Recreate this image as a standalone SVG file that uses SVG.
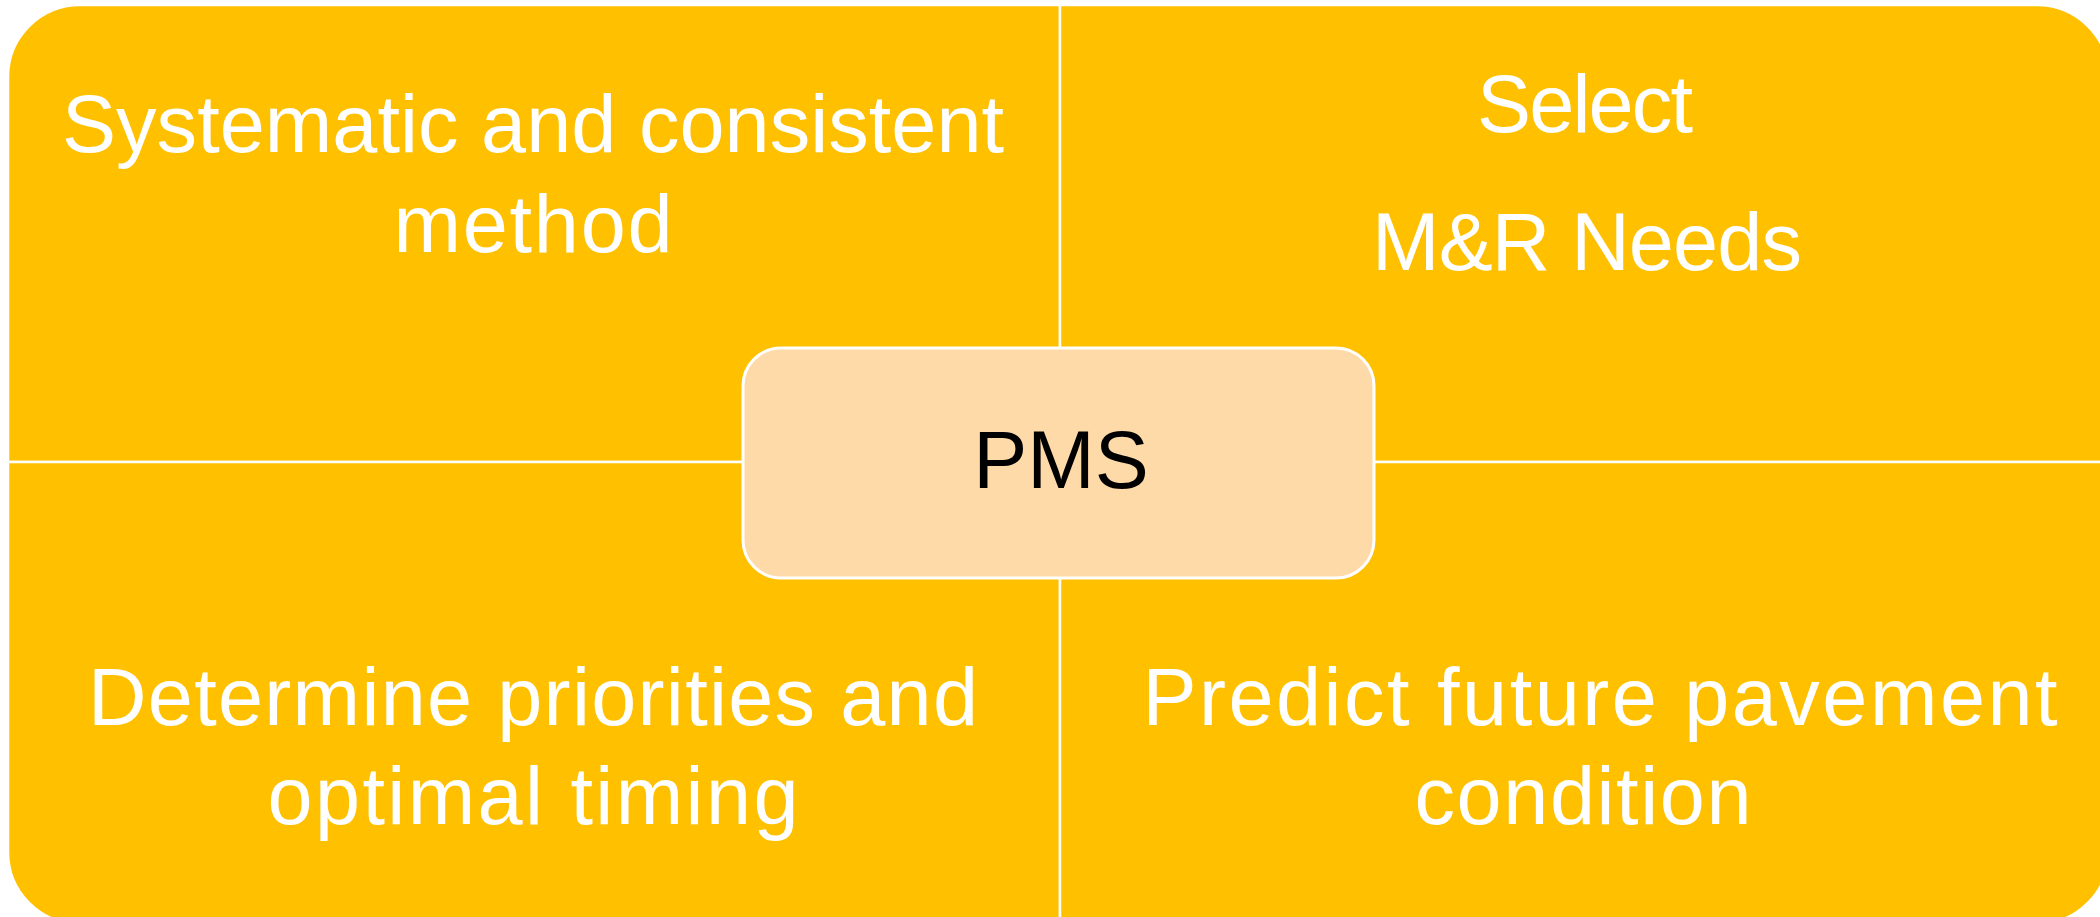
<svg xmlns="http://www.w3.org/2000/svg" width="2100" height="917" viewBox="0 0 2100 917">
  <style>
    .quad { fill: #FFC000; stroke: #FFFFFF; stroke-width: 2.5; }
    .center { fill: #FEDAA8; stroke: #FFFFFF; stroke-width: 3; }
    .qt { font-family: "Liberation Sans", Arial, sans-serif; font-size: 81px; fill: #FFFFFF; text-anchor: middle; }
    .ct { font-family: "Liberation Sans", Arial, sans-serif; font-size: 81px; fill: #000000; text-anchor: middle; }
  </style>
  <rect x="0" y="0" width="2100" height="917" fill="#FFFFFF"/>
  <g id="quad-tl">
    <path class="quad" d="M8,462 L8,77 A72,72 0 0 1 80,5 L1060,5 L1060,462 Z"/>
    <text class="qt" x="533" y="152" textLength="942" lengthAdjust="spacing">Systematic and consistent</text>
    <text class="qt" x="533" y="252" textLength="279" lengthAdjust="spacing">method</text>
  </g>
  <g id="quad-tr">
    <path class="quad" d="M1060,5 L2037,5 A72,72 0 0 1 2109,77 L2109,462 L1060,462 Z"/>
    <text class="qt" x="1585" y="132" textLength="216" lengthAdjust="spacing">Select</text>
    <text class="qt" x="1587" y="270" textLength="430" lengthAdjust="spacing">M&amp;R Needs</text>
  </g>
  <g id="quad-bl">
    <path class="quad" d="M8,462 L1060,462 L1060,924 L80,924 A72,72 0 0 1 8,852 Z"/>
    <text class="qt" x="533" y="725" textLength="890" lengthAdjust="spacing">Determine priorities and</text>
    <text class="qt" x="533" y="824" textLength="531" lengthAdjust="spacing">optimal timing</text>
  </g>
  <g id="quad-br">
    <path class="quad" d="M1060,462 L2109,462 L2109,852 A72,72 0 0 1 2037,924 L1060,924 Z"/>
    <text class="qt" x="1600" y="725" textLength="915" lengthAdjust="spacing">Predict future pavement</text>
    <text class="qt" x="1583" y="824" textLength="337" lengthAdjust="spacing">condition</text>
  </g>
  <g id="connectors"></g>
  <g id="center-pms">
    <rect class="center" x="743" y="348" width="631" height="230" rx="38" ry="38"/>
    <text class="ct" x="1061" y="488">PMS</text>
  </g>
</svg>
